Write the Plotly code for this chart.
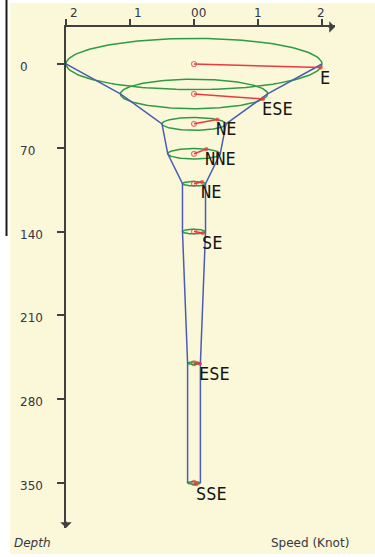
import numpy as np
import plotly.graph_objects as go

# ---- data ----
depths = [0, 25, 50, 75, 100, 140, 250, 350]          # m
speeds = [2.0, 1.15, 0.5, 0.41, 0.18, 0.18, 0.1, 0.1]  # knots
bearings = [98, 110, 47, 28, 45, 130, 112, 157]        # degrees
dir_labels = ["E", "ESE", "NE", "NNE", "NE", "SE", "ESE", "SSE"]

x_tick_vals = [-2, -1, 0, 1, 2]
x_tick_text = ["2", "1", "00", "1", "2"]
y_tick_vals = [0, 70, 140, 210, 280, 350]
y_tick_text = ["0", "70", "140", "210", "280", "350"]

# ---- geometry / style ----
W, H = 375, 557
L, R, T, B = 66, 335, 27, 528
PX_PER_KNOT = 64.0
PX_PER_M = 1.197
DEPTH0_PX = 64.0
ELL_RATIO = 0.2
C = ELL_RATIO * PX_PER_KNOT / PX_PER_M   # vertical ellipse radius (m) per knot

x_range = [-2.0, -2.0 + (R - L) / PX_PER_KNOT]
y_top = (T - DEPTH0_PX) / PX_PER_M
y_bot = (B - DEPTH0_PX) / PX_PER_M

GREEN = "#2f9a45"
BLUE = "#4a5cb5"
RED = "#ea3a3e"
AXIS = "#404040"
TXT = "#363644"
CREAM = "#faf8d8"

def px_x(p):
    return (p - L) / (R - L)

def px_y(p):
    return (B - p) / (B - T)

fig = go.Figure()

# green ellipses
t = np.linspace(0, 2 * np.pi, 181)
for d, s in zip(depths, speeds):
    fig.add_trace(go.Scatter(x=s * np.cos(t), y=d + C * s * np.sin(t), mode="lines",
                             line=dict(color=GREEN, width=1.5), hoverinfo="skip",
                             showlegend=False))

# blue funnel outline
sp = np.array(speeds)
dp = np.array(depths)
for sign in (-1, 1):
    fig.add_trace(go.Scatter(x=sign * sp, y=dp, mode="lines",
                             line=dict(color=BLUE, width=1.5), hoverinfo="skip",
                             showlegend=False))

# red direction vectors
ends = []
for d, s, b in zip(depths, speeds, bearings):
    br = np.radians(b)
    ex, ey = s * np.sin(br), d - C * s * np.cos(br)
    ends.append((ex, ey))
    fig.add_trace(go.Scatter(x=[0, ex], y=[d, ey], mode="lines+markers",
                             line=dict(color=RED, width=1.5),
                             marker=dict(symbol=["circle-open", "circle"], size=[5, 3],
                                         color=RED, line=dict(color=RED, width=1.2)),
                             hoverinfo="skip", showlegend=False))

annotations = []
for (ex, ey), lab in zip(ends, dir_labels):
    annotations.append(dict(x=ex, y=ey, xref="x", yref="y", text=lab, showarrow=False,
                            xanchor="left", yanchor="top", xshift=-3, yshift=2,
                            font=dict(family="DejaVu Sans Mono", size=17, color="#151515")))

# top tick labels
x_shifts = [8, 8, 4, 0, -1]
for v, txt, xs in zip(x_tick_vals, x_tick_text, x_shifts):
    annotations.append(dict(x=v, y=1, xref="x", yref="paper", text=txt, showarrow=False,
                            xanchor="center", yanchor="bottom", xshift=xs, yshift=5,
                            font=dict(family="DejaVu Sans", size=12, color=TXT)))
# left tick labels
for v, txt in zip(y_tick_vals, y_tick_text):
    annotations.append(dict(x=px_x(18), y=v, xref="paper", yref="y", text=txt,
                            showarrow=False, xanchor="left", yanchor="middle", yshift=-3,
                            font=dict(family="DejaVu Sans", size=12, color=TXT)))

# axis titles
annotations.append(dict(x=px_x(12), y=px_y(543), xref="paper", yref="paper",
                        text="<i>Depth</i>", showarrow=False, xanchor="left",
                        yanchor="middle",
                        font=dict(family="DejaVu Sans", size=12, color=TXT)))
annotations.append(dict(x=px_x(351), y=px_y(543), xref="paper", yref="paper",
                        text="Speed (Knot)", showarrow=False, xanchor="right",
                        yanchor="middle",
                        font=dict(family="DejaVu Sans", size=12, color=TXT)))

# axis arrows
annotations.append(dict(x=1, y=1, xref="paper", yref="paper", ax=-8, ay=0,
                        showarrow=True, arrowhead=1, arrowsize=1.2, arrowwidth=1.6,
                        arrowcolor=AXIS, text=""))
annotations.append(dict(x=0, y=0, xref="paper", yref="paper", ax=0, ay=-8,
                        showarrow=True, arrowhead=1, arrowsize=1.2, arrowwidth=1.6,
                        arrowcolor=AXIS, text=""))

shapes = [
    dict(type="rect", xref="paper", yref="paper", x0=px_x(10), x1=px_x(375),
         y0=px_y(554), y1=px_y(3), fillcolor=CREAM, line=dict(width=0), layer="below"),
    dict(type="line", xref="paper", yref="paper", x0=px_x(6.5), x1=px_x(6.5),
         y0=px_y(0), y1=px_y(236), line=dict(color="#1a1a1a", width=2)),
]

fig.update_layout(
    width=W, height=H,
    margin=dict(l=L, r=W - R, t=T, b=H - B),
    paper_bgcolor="white", plot_bgcolor="rgba(0,0,0,0)",
    showlegend=False,
    annotations=annotations, shapes=shapes,
    xaxis=dict(range=x_range, side="top", showgrid=False, zeroline=False,
               showline=True, linecolor=AXIS, linewidth=2,
               tickmode="array", tickvals=x_tick_vals, ticks="outside", ticklen=6,
               tickwidth=1.5, tickcolor=AXIS, showticklabels=False, fixedrange=True),
    yaxis=dict(range=[y_bot, y_top], showgrid=False, zeroline=False,
               showline=True, linecolor=AXIS, linewidth=2,
               tickmode="array", tickvals=y_tick_vals, ticks="outside", ticklen=7,
               tickwidth=1.5, tickcolor=AXIS, showticklabels=False, fixedrange=True),
)

fig.write_html("out.html", config={"displayModeBar": False},
               post_script="document.body.style.margin='0';"
                           "document.body.style.overflow='hidden';")
